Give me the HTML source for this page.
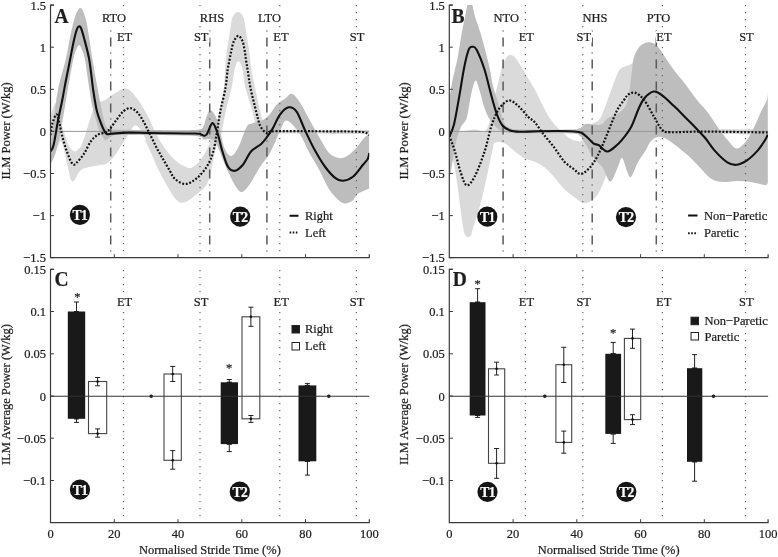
<!DOCTYPE html>
<html><head><meta charset="utf-8"><title>ILM Power</title>
<style>html,body{margin:0;padding:0;background:#fff;width:778px;height:557px;overflow:hidden}svg{display:block;will-change:transform}</style>
</head><body>
<svg width="778" height="557" viewBox="0 0 778 557">
<rect width="778" height="557" fill="#fff"/>
<defs><clipPath id="cA"><rect x="50.5" y="5.1" width="318.8" height="252.6"/></clipPath><clipPath id="cB"><rect x="449.3" y="5.1" width="318.8" height="252.6"/></clipPath></defs>
<g clip-path="url(#cA)">
<path d="M50.5 118.0C50.9 116.3 52.0 110.5 53.0 108.0C54.0 105.5 55.5 102.5 56.4 102.8C57.3 103.1 57.7 106.8 58.5 110.0C59.3 113.2 60.1 118.3 61.0 122.0C61.9 125.7 62.9 128.5 64.0 132.0C65.1 135.5 66.5 140.2 67.7 143.0C68.9 145.8 69.8 147.6 71.0 149.0C72.2 150.4 73.8 151.5 75.0 151.5C76.2 151.5 77.4 150.1 78.5 149.0C79.6 147.9 80.3 148.0 81.6 145.0C82.9 142.0 84.9 136.1 86.5 131.0C88.1 126.0 89.9 119.2 91.4 114.7C92.9 110.2 94.1 106.1 95.4 104.0C96.7 101.9 97.7 102.7 99.3 102.0C100.9 101.3 102.7 101.3 105.0 100.0C107.3 98.7 110.8 95.7 113.0 94.3C115.2 92.9 116.5 92.4 118.1 91.5C119.6 90.6 120.9 89.5 122.3 89.0C123.7 88.5 125.1 88.5 126.5 88.8C127.9 89.1 129.0 89.7 130.5 91.0C132.0 92.3 133.4 93.7 135.5 96.4C137.6 99.1 140.5 103.0 143.0 107.2C145.5 111.4 148.4 117.4 150.5 121.6C152.6 125.8 153.3 128.2 155.5 132.3C157.7 136.4 160.2 141.8 163.5 146.4C166.8 151.1 171.5 156.8 175.1 160.2C178.7 163.5 182.5 165.2 185.2 166.5C187.9 167.8 189.0 168.9 191.5 167.8C194.0 166.8 197.6 163.6 200.3 160.2C203.0 156.8 205.8 151.6 207.8 147.6C209.8 143.6 211.1 139.3 212.5 136.0C213.9 132.7 215.5 131.1 216.5 127.5C217.5 123.9 217.4 121.1 218.6 114.6C219.8 108.1 222.6 96.1 223.7 88.7C224.8 81.3 224.4 76.5 225.0 70.0C225.6 63.5 226.3 55.4 227.0 50.0C227.7 44.6 228.3 41.4 228.9 37.7C229.5 34.0 230.0 31.1 230.5 28.0C231.0 24.9 231.3 21.2 232.0 18.9C232.7 16.6 233.5 15.2 234.5 14.0C235.5 12.8 236.7 11.9 237.9 11.9C239.1 11.9 240.5 12.8 241.5 14.0C242.5 15.2 243.3 16.6 244.0 18.9C244.7 21.2 245.0 24.9 245.5 28.0C246.0 31.1 246.4 34.0 247.0 37.7C247.6 41.4 248.2 44.6 249.0 50.0C249.8 55.4 250.4 63.5 251.5 70.0C252.6 76.5 253.7 81.3 255.3 88.7C256.9 96.1 259.3 108.1 261.0 114.6C262.7 121.1 263.8 124.9 265.3 127.5C266.8 130.1 252.7 129.8 270.0 130.3C287.3 130.8 352.8 130.3 369.3 130.3L369.3 134.0C352.8 133.9 287.9 133.8 270.0 133.5C252.1 133.2 264.3 133.4 262.0 132.0C259.7 130.6 257.6 128.3 256.0 125.0C254.4 121.7 254.3 118.2 252.6 112.0C250.8 105.8 247.2 95.0 245.5 88.0C243.8 81.0 243.5 74.1 242.7 70.0C241.9 65.9 241.2 64.9 240.5 63.5C239.8 62.1 239.0 61.5 238.3 61.5C237.6 61.5 237.1 62.1 236.5 63.5C235.9 64.9 235.3 65.9 234.5 70.0C233.7 74.1 233.0 81.0 231.5 88.0C230.0 95.0 227.2 104.2 225.5 112.0C223.8 119.8 222.7 128.7 221.0 135.0C219.3 141.3 217.0 143.9 215.3 150.0C213.6 156.1 212.4 165.8 211.0 171.5C209.6 177.2 208.8 180.8 206.7 184.4C204.5 188.0 201.1 190.4 198.1 193.1C195.1 195.8 191.3 199.0 188.4 200.6C185.5 202.2 183.2 203.2 180.9 202.7C178.6 202.2 176.7 200.3 174.4 197.4C172.1 194.5 169.4 189.8 166.9 185.5C164.4 181.2 161.6 175.8 159.4 171.5C157.2 167.2 155.6 163.6 154.0 160.0C152.4 156.4 151.1 153.2 149.7 150.0C148.3 146.8 146.2 142.9 145.5 141.0C144.8 139.1 146.4 140.5 145.5 138.5C144.6 136.5 141.6 131.2 140.0 129.0C138.4 126.8 137.2 125.8 136.0 125.5C134.8 125.2 134.3 125.4 133.0 127.0C131.7 128.6 130.0 131.8 128.0 135.0C126.0 138.2 123.3 142.4 121.0 146.0C118.7 149.6 116.6 153.8 114.0 156.8C111.4 159.8 107.8 162.6 105.5 164.0C103.2 165.4 102.7 164.5 100.0 165.0C97.3 165.5 92.7 166.2 89.5 167.1C86.3 168.0 83.5 167.9 80.7 170.3C77.9 172.7 74.6 182.0 72.5 181.6C70.4 181.2 69.5 173.1 68.1 168.0C66.7 162.9 65.5 155.5 64.3 151.0C63.1 146.5 62.0 141.8 61.0 141.0C60.0 140.2 59.1 143.3 58.0 146.0C56.9 148.7 55.5 154.0 54.3 157.0C53.0 160.0 51.1 162.8 50.5 164.0Z" fill="#dadada" stroke="none"/>
<path d="M50.5 150.0C51.1 144.7 52.8 128.0 54.0 118.0C55.2 108.0 56.0 99.7 57.9 90.0C59.8 80.3 63.7 68.3 65.6 60.0C67.5 51.7 68.2 46.3 69.5 40.0C70.8 33.7 72.2 26.7 73.5 22.0C74.8 17.3 75.9 14.3 77.0 12.0C78.1 9.7 79.2 8.3 80.2 8.1C81.2 7.9 82.0 8.7 83.0 11.0C84.0 13.3 85.4 17.2 86.5 22.0C87.6 26.8 88.5 33.7 89.5 40.0C90.5 46.3 91.3 52.5 92.6 60.0C93.8 67.5 95.5 76.7 97.0 85.0C98.5 93.3 100.5 103.8 101.8 110.0C103.0 116.2 103.5 118.9 104.5 122.0C105.5 125.1 106.2 127.2 108.0 128.5C109.8 129.8 108.0 129.2 115.0 129.5C122.0 129.8 136.7 129.9 150.0 130.0C163.3 130.1 186.2 130.5 195.0 130.0C203.8 129.5 201.2 129.0 203.0 127.0C204.8 125.0 204.9 120.7 206.0 118.0C207.1 115.3 208.1 112.0 209.3 111.0C210.5 110.0 211.6 110.2 213.0 112.0C214.4 113.8 216.7 118.0 218.0 121.8C219.3 125.6 219.8 130.4 221.0 135.0C222.2 139.6 223.3 146.1 225.0 149.6C226.7 153.1 229.1 156.4 231.3 156.0C233.6 155.6 236.0 151.8 238.5 147.0C241.0 142.2 244.2 131.1 246.5 127.2C248.8 123.3 249.3 124.8 252.0 123.6C254.7 122.4 259.6 121.8 262.5 120.3C265.4 118.8 267.2 117.2 269.6 114.6C272.0 112.0 274.2 107.1 276.8 104.5C279.4 101.9 282.5 100.6 285.0 98.8C287.5 97.0 289.2 93.3 291.6 93.8C294.0 94.3 296.5 97.4 299.5 101.7C302.5 106.0 306.1 113.6 309.4 119.5C312.7 125.4 316.0 131.7 319.3 137.3C322.6 142.9 325.9 149.7 329.2 153.1C332.5 156.5 336.0 157.5 339.0 158.0C342.0 158.5 344.0 157.9 347.0 156.1C350.0 154.3 353.9 150.3 356.8 147.2C359.8 144.1 362.6 139.5 364.7 137.3C366.8 135.1 368.5 134.6 369.3 134.0L369.3 188.5C368.5 188.8 366.8 189.5 364.7 190.5C362.6 191.5 358.8 192.8 356.8 194.5C354.8 196.2 354.9 198.9 352.9 200.4C350.9 201.9 347.3 203.4 345.0 203.4C342.7 203.4 341.6 202.7 339.0 200.4C336.4 198.1 332.5 194.6 329.2 189.5C325.9 184.4 322.6 176.1 319.3 170.0C316.0 163.9 312.7 159.2 309.4 153.1C306.1 147.0 303.3 138.8 299.5 133.4C295.7 128.0 290.0 120.8 286.7 120.5C283.4 120.2 282.6 126.0 279.8 131.4C277.0 136.8 273.2 147.2 269.9 153.1C266.6 159.0 263.5 161.6 260.0 167.0C256.5 172.4 252.1 181.5 248.8 185.6C245.5 189.7 243.3 193.5 240.0 191.5C236.7 189.5 232.5 180.6 229.0 173.7C225.5 166.8 221.5 155.4 219.2 150.0C216.9 144.6 216.7 142.8 215.0 141.0C213.3 139.2 211.3 139.2 209.3 139.0C207.3 138.8 205.4 140.0 203.0 139.5C200.6 139.0 207.2 136.8 195.0 136.0C182.8 135.2 143.3 135.2 130.0 135.0C116.7 134.8 118.5 134.5 115.0 135.0C111.5 135.5 110.7 137.2 109.0 138.0C107.3 138.8 106.5 141.0 105.0 140.0C103.5 139.0 101.5 135.3 100.0 132.0C98.5 128.7 97.3 124.5 96.0 120.0C94.7 115.5 93.1 110.0 92.0 105.0C90.9 100.0 90.7 97.5 89.5 90.0C88.3 82.5 86.2 66.7 85.0 60.0C83.8 53.3 83.0 52.5 82.0 50.0C81.0 47.5 80.2 45.0 79.2 45.0C78.2 45.0 77.0 47.5 76.0 50.0C75.0 52.5 74.6 53.3 73.2 60.0C71.8 66.7 69.4 80.3 67.7 90.0C66.0 99.7 64.5 109.7 63.0 118.0C61.5 126.3 60.4 133.7 58.9 140.0C57.4 146.3 55.7 152.0 54.3 156.0C52.9 160.0 51.1 162.7 50.5 164.0Z" fill="#bdbdbd" stroke="none"/>
</g>
<g clip-path="url(#cB)">
<path d="M449.3 130.0C451.1 130.2 455.7 131.6 460.0 131.5C464.3 131.4 470.8 129.6 475.0 129.5C479.2 129.4 482.5 132.6 485.0 131.0C487.5 129.4 488.6 125.2 490.0 120.0C491.4 114.8 492.4 105.0 493.5 100.0C494.6 95.0 495.2 94.4 496.3 90.3C497.4 86.2 498.9 79.4 500.0 75.2C501.1 71.0 501.6 68.0 502.6 65.1C503.6 62.2 504.8 59.7 506.0 58.0C507.2 56.3 508.6 55.2 510.1 55.1C511.6 55.0 513.3 55.8 515.0 57.5C516.7 59.2 518.1 61.7 520.2 65.1C522.3 68.5 525.2 73.5 527.7 77.7C530.2 81.9 532.5 85.2 535.2 90.3C537.9 95.3 541.7 103.5 544.0 108.0C546.3 112.5 547.2 114.2 549.0 117.0C550.8 119.8 552.8 122.5 555.0 125.0C557.2 127.5 559.5 129.8 562.0 132.0C564.5 134.2 567.5 137.0 570.0 138.5C572.5 140.0 575.0 140.7 577.0 141.0C579.0 141.3 580.2 142.2 582.0 140.5C583.8 138.8 585.8 133.8 587.5 131.0C589.2 128.2 590.1 125.8 592.0 124.0C593.9 122.2 596.9 122.5 599.0 120.0C601.1 117.5 602.3 114.1 604.4 109.0C606.5 103.9 609.1 95.5 611.5 89.2C613.9 82.9 616.6 75.0 618.7 71.3C620.8 67.6 622.3 67.8 624.1 66.8C625.9 65.8 626.9 66.1 629.5 65.0C632.1 63.9 635.8 59.2 640.0 60.0C644.2 60.8 650.0 63.3 655.0 70.0C660.0 76.7 665.8 90.8 670.0 100.0C674.2 109.2 675.0 120.2 680.0 125.0C685.0 129.8 685.4 128.3 700.0 129.0C714.6 129.7 756.5 129.0 767.8 129.0L767.8 134.5C750.7 134.4 684.6 133.8 665.0 134.0C645.4 134.2 655.0 135.0 650.0 136.0C645.0 137.0 640.0 137.7 635.0 140.0C630.0 142.3 624.2 145.8 620.0 150.0C615.8 154.2 612.6 160.1 610.0 165.0C607.4 169.9 606.2 175.3 604.5 179.6C602.8 183.9 601.5 187.8 599.7 191.0C597.9 194.2 596.4 196.9 593.8 198.9C591.2 200.9 587.2 203.2 583.9 202.9C580.6 202.6 577.3 199.3 574.0 197.0C570.7 194.7 567.5 192.3 564.2 189.0C560.9 185.7 557.6 180.8 554.3 177.2C551.0 173.6 547.7 169.9 544.4 167.3C541.1 164.7 537.8 162.9 534.5 161.4C531.2 159.9 527.9 160.1 524.6 158.4C521.3 156.8 518.1 154.0 514.8 151.5C511.5 149.0 508.2 145.1 504.9 143.6C501.6 142.1 497.1 141.5 495.0 142.6C492.9 143.7 493.8 144.8 492.5 150.0C491.2 155.2 489.5 164.8 487.5 173.7C485.5 182.6 483.1 194.2 480.6 203.4C478.1 212.6 474.4 223.6 472.7 229.0C471.0 234.4 471.8 234.8 470.7 236.0C469.6 237.2 467.1 237.8 465.8 236.0C464.5 234.2 464.3 234.2 462.8 225.1C461.3 216.0 458.5 192.4 456.9 181.6C455.3 170.8 454.3 165.6 453.0 160.0C451.7 154.4 449.9 150.0 449.3 148.0Z" fill="#dadada" stroke="none"/>
<path d="M449.3 100.0C449.8 97.2 450.7 89.7 452.0 83.0C453.3 76.3 456.1 65.2 457.2 60.0C458.3 54.8 457.9 56.3 458.7 51.7C459.5 47.1 460.8 38.2 461.9 32.3C463.0 26.4 464.2 20.9 465.2 16.2C466.2 11.5 466.7 6.0 467.8 4.0C468.9 2.0 470.6 2.0 471.8 4.0C473.0 6.0 473.5 11.5 474.9 16.2C476.3 20.9 478.5 26.4 480.3 32.3C482.1 38.2 484.0 45.5 485.6 51.7C487.2 57.9 488.8 63.8 490.0 69.5C491.2 75.2 491.6 80.4 493.0 86.0C494.4 91.6 496.6 97.2 498.3 103.0C500.0 108.8 501.7 116.8 503.3 120.8C504.9 124.8 505.2 125.5 508.0 127.0C510.8 128.4 509.7 129.1 520.0 129.5C530.3 129.9 560.0 129.8 570.0 129.5C580.0 129.2 577.2 129.0 580.0 128.0C582.8 127.0 583.3 124.2 586.7 123.7C590.1 123.2 597.0 125.7 600.5 124.7C604.0 123.8 605.3 119.7 608.0 118.0C610.7 116.3 613.9 116.5 616.9 114.4C619.9 112.3 623.8 109.5 625.9 105.4C628.0 101.3 628.6 95.1 629.5 90.0C630.4 84.9 630.8 80.1 631.5 74.9C632.2 69.7 632.3 63.2 633.5 58.7C634.7 54.2 636.8 50.5 638.5 48.0C640.2 45.5 641.8 44.4 643.9 43.5C646.0 42.6 648.6 42.0 651.0 42.6C653.4 43.2 655.5 44.0 658.2 47.0C660.9 50.0 664.2 56.1 667.2 60.5C670.2 64.8 673.2 69.2 676.2 73.1C679.2 77.0 681.7 79.4 685.2 83.9C688.7 88.4 693.3 95.3 697.0 100.0C700.7 104.7 703.8 107.1 707.5 112.0C711.2 116.9 716.1 125.0 719.4 129.6C722.7 134.2 724.5 136.4 727.3 139.5C730.1 142.6 733.2 147.9 736.2 148.4C739.2 148.9 742.3 145.6 745.1 142.5C747.9 139.4 750.4 134.7 753.0 129.6C755.6 124.5 758.6 116.8 760.9 111.9C763.2 107.0 765.6 103.5 766.8 100.0C767.9 96.5 767.6 92.4 767.8 90.9L767.8 183.0C767.3 183.3 767.6 185.2 764.8 185.0C762.0 184.8 755.6 182.7 751.0 182.0C746.4 181.3 741.8 181.0 737.2 181.0C732.6 181.0 727.6 182.3 723.3 182.0C719.0 181.7 715.5 181.5 711.5 179.0C707.5 176.5 703.6 171.1 699.6 167.2C695.6 163.2 693.1 159.8 687.8 155.3C682.5 150.8 673.0 143.1 668.0 140.0C663.0 136.9 660.5 136.6 657.5 137.0C654.5 137.4 651.8 140.3 649.9 142.5C648.0 144.7 648.0 146.8 646.0 150.0C644.0 153.2 640.6 157.5 638.1 161.9C635.6 166.3 632.9 175.1 631.1 176.7C629.3 178.3 628.7 174.8 627.2 171.7C625.7 168.6 623.7 158.9 622.2 157.9C620.7 156.9 620.3 161.9 618.3 165.8C616.3 169.8 613.0 181.4 610.4 181.6C607.8 181.8 605.1 170.9 602.5 167.2C599.9 163.5 597.4 163.0 594.6 159.3C591.9 155.6 588.4 148.9 586.0 145.0C583.6 141.1 582.7 137.9 580.0 136.0C577.3 134.1 580.0 133.9 570.0 133.5C560.0 133.1 530.0 133.6 520.0 133.5C510.0 133.4 512.6 133.2 510.0 133.0C507.4 132.8 506.5 132.8 504.3 132.0C502.1 131.2 499.4 130.0 497.0 128.0C494.6 126.0 492.1 123.3 490.0 120.0C487.9 116.7 486.2 112.7 484.5 108.0C482.8 103.3 481.5 96.6 480.0 92.0C478.5 87.4 477.1 79.9 475.6 80.4C474.1 80.9 472.5 88.7 471.0 95.0C469.5 101.3 468.4 112.7 466.7 118.0C465.0 123.3 462.8 123.0 461.0 127.0C459.2 131.0 457.5 135.7 456.0 142.0C454.5 148.3 453.1 158.3 452.0 165.0C450.9 171.7 449.8 179.2 449.3 182.0Z" fill="#bdbdbd" stroke="none"/>
</g>
<path d="M50.5 131.4H369.3M449.3 131.4H768.1" stroke="#999" stroke-width="1"/>
<path d="M123.5 5.0V257.7" stroke="#666" stroke-width="1.2" stroke-dasharray="1.2 5.8"/>
<path d="M123.5 270.0V522.7" stroke="#666" stroke-width="1.2" stroke-dasharray="1.2 5.8"/>
<path d="M200.0 5.0V257.7" stroke="#666" stroke-width="1.2" stroke-dasharray="1.2 5.8"/>
<path d="M200.0 270.0V522.7" stroke="#666" stroke-width="1.2" stroke-dasharray="1.2 5.8"/>
<path d="M279.8 5.0V257.7" stroke="#666" stroke-width="1.2" stroke-dasharray="1.2 5.8"/>
<path d="M279.8 270.0V522.7" stroke="#666" stroke-width="1.2" stroke-dasharray="1.2 5.8"/>
<path d="M356.4 5.0V257.7" stroke="#666" stroke-width="1.2" stroke-dasharray="1.2 5.8"/>
<path d="M356.4 270.0V522.7" stroke="#666" stroke-width="1.2" stroke-dasharray="1.2 5.8"/>
<path d="M525.4 5.0V257.7" stroke="#666" stroke-width="1.2" stroke-dasharray="1.2 5.8"/>
<path d="M525.4 270.0V522.7" stroke="#666" stroke-width="1.2" stroke-dasharray="1.2 5.8"/>
<path d="M582.8 5.0V257.7" stroke="#666" stroke-width="1.2" stroke-dasharray="1.2 5.8"/>
<path d="M582.8 270.0V522.7" stroke="#666" stroke-width="1.2" stroke-dasharray="1.2 5.8"/>
<path d="M662.4 5.0V257.7" stroke="#666" stroke-width="1.2" stroke-dasharray="1.2 5.8"/>
<path d="M662.4 270.0V522.7" stroke="#666" stroke-width="1.2" stroke-dasharray="1.2 5.8"/>
<path d="M745.5 5.0V257.7" stroke="#666" stroke-width="1.2" stroke-dasharray="1.2 5.8"/>
<path d="M745.5 270.0V522.7" stroke="#666" stroke-width="1.2" stroke-dasharray="1.2 5.8"/>
<path d="M110.7 30.6V252.0" stroke="#5a5a5a" stroke-width="1.5" stroke-dasharray="1 6 9 6"/>
<path d="M209.7 30.6V252.0" stroke="#5a5a5a" stroke-width="1.5" stroke-dasharray="1 6 9 6"/>
<path d="M266.9 30.6V252.0" stroke="#5a5a5a" stroke-width="1.5" stroke-dasharray="1 6 9 6"/>
<path d="M503.1 30.6V252.0" stroke="#5a5a5a" stroke-width="1.5" stroke-dasharray="1 6 9 6"/>
<path d="M592.2 30.6V252.0" stroke="#5a5a5a" stroke-width="1.5" stroke-dasharray="1 6 9 6"/>
<path d="M656.3 30.6V252.0" stroke="#5a5a5a" stroke-width="1.5" stroke-dasharray="1 6 9 6"/>
<g clip-path="url(#cA)">
<path d="M50.5 135.2C50.8 133.3 51.3 127.2 52.3 123.7C53.3 120.2 55.4 114.4 56.6 114.4C57.8 114.4 58.5 120.0 59.5 123.7C60.5 127.4 61.2 132.1 62.4 136.7C63.6 141.2 65.0 146.5 66.7 151.0C68.4 155.5 70.7 162.0 72.4 163.9C74.1 165.8 74.8 164.2 76.7 162.5C78.6 160.8 81.5 157.5 83.9 153.9C86.3 150.3 88.7 144.2 91.1 141.0C93.5 137.8 95.9 135.9 98.3 134.5C100.7 133.1 103.5 133.2 105.5 132.3C107.5 131.4 108.2 130.9 110.0 128.8C111.8 126.7 114.3 122.7 116.5 119.9C118.7 117.1 120.6 113.8 122.9 111.8C125.2 109.8 127.8 108.0 130.2 108.1C132.6 108.2 135.2 110.2 137.5 112.6C139.8 115.0 141.8 118.5 143.9 122.3C146.1 126.1 148.2 130.9 150.4 135.2C152.6 139.5 154.7 144.1 156.8 148.2C159.0 152.2 161.1 155.7 163.3 159.5C165.5 163.3 167.9 167.6 169.8 170.8C171.8 174.1 172.4 176.8 175.0 179.0C177.6 181.2 181.9 184.2 185.6 184.0C189.3 183.8 193.8 180.7 197.4 177.7C201.0 174.7 204.7 170.1 207.3 165.8C209.9 161.5 211.6 157.5 213.2 152.0C214.8 146.5 215.6 139.7 216.8 133.0C218.0 126.3 218.8 119.5 220.2 112.0C221.6 104.5 224.3 95.0 225.5 88.0C226.7 81.0 226.9 74.7 227.6 70.0C228.3 65.3 228.9 63.3 229.5 60.0C230.1 56.7 230.7 53.5 231.4 50.3C232.2 47.1 232.8 43.4 234.0 41.0C235.2 38.6 236.9 35.8 238.3 35.8C239.7 35.8 241.4 38.6 242.5 41.0C243.6 43.4 244.0 47.1 244.6 50.3C245.2 53.5 245.5 56.7 246.0 60.0C246.5 63.3 246.9 65.3 247.7 70.0C248.4 74.7 249.1 81.0 250.5 88.0C251.9 95.0 254.7 105.7 256.3 112.0C257.9 118.3 258.6 122.6 260.3 126.1C262.1 129.6 264.9 132.3 266.8 133.2C268.8 134.1 266.5 131.6 272.0 131.3C277.5 131.0 288.7 131.2 300.0 131.2C311.3 131.2 329.7 131.3 340.0 131.4C350.3 131.5 357.4 131.6 362.0 132.0C366.6 132.4 366.5 133.3 367.7 133.8C368.9 134.3 369.0 134.8 369.3 135.0" fill="none" stroke="#111" stroke-width="2.2" stroke-dasharray="1.9 1.7" />
<path d="M50.5 151.5C51.0 150.4 52.3 150.2 53.6 145.0C54.9 139.8 56.6 127.6 58.1 120.0C59.6 112.4 61.1 106.0 62.4 99.3C63.7 92.6 64.7 86.5 66.0 80.0C67.3 73.5 68.7 66.7 70.0 60.0C71.3 53.3 72.8 45.2 74.0 40.0C75.2 34.8 76.2 31.2 77.0 29.0C77.8 26.8 78.2 26.7 78.9 26.5C79.6 26.3 80.2 26.1 81.0 28.0C81.8 29.9 82.6 32.7 84.0 38.0C85.4 43.3 87.8 51.3 89.3 60.0C90.8 68.7 92.0 81.5 93.2 90.0C94.5 98.5 95.5 105.2 96.8 110.8C98.1 116.4 99.8 120.2 101.1 123.7C102.4 127.2 103.7 129.9 104.7 131.6C105.7 133.3 105.8 133.7 106.9 134.1C108.0 134.5 107.7 134.1 111.2 133.8C114.7 133.6 121.5 132.7 128.0 132.6C134.5 132.5 138.8 132.8 150.0 133.0C161.2 133.2 186.5 133.2 195.0 133.5C203.5 133.8 199.5 134.1 201.0 134.5C202.5 134.9 203.0 135.8 204.0 135.7C205.0 135.6 205.6 136.1 207.0 134.0C208.4 131.9 210.8 123.3 212.5 123.1C214.2 122.9 215.9 128.5 217.5 133.0C219.1 137.5 220.2 144.4 222.0 150.0C223.8 155.6 225.8 163.3 228.0 166.8C230.2 170.3 232.5 171.1 235.0 170.8C237.5 170.5 240.2 168.0 242.9 164.8C245.6 161.6 248.0 154.9 251.0 151.5C254.0 148.1 258.3 146.4 260.9 144.2C263.4 141.9 264.4 140.6 266.3 138.0C268.2 135.4 270.2 132.8 272.5 128.9C274.8 125.0 277.1 118.4 279.8 114.8C282.5 111.2 285.9 107.8 288.7 107.3C291.5 106.8 293.8 107.6 296.6 111.6C299.4 115.6 302.4 124.8 305.5 131.4C308.6 138.0 312.0 145.2 315.3 151.1C318.6 157.0 321.9 162.6 325.2 167.0C328.5 171.4 332.1 175.5 335.1 177.8C338.1 180.1 340.0 181.0 343.0 180.8C346.0 180.6 349.6 179.4 352.9 176.8C356.2 174.2 360.3 168.0 362.8 165.0C365.3 162.0 366.6 161.0 367.7 159.0C368.8 157.0 369.0 154.0 369.3 153.0" fill="none" stroke="#111" stroke-width="2.1" stroke-linejoin="round"/>
</g>
<g clip-path="url(#cB)">
<path d="M449.3 135.6C450.2 138.2 453.0 145.2 454.9 151.4C456.8 157.7 458.9 167.4 460.9 173.1C462.9 178.8 464.5 184.7 466.8 185.3C469.1 185.9 471.7 182.2 474.7 176.5C477.7 170.8 481.8 159.9 484.6 151.4C487.4 142.9 489.2 132.6 491.5 125.7C493.8 118.8 495.6 114.1 498.4 109.9C501.2 105.7 505.0 101.2 508.3 100.5C511.6 99.8 514.9 103.2 518.2 105.9C521.5 108.6 525.3 114.1 528.0 116.8C530.7 119.5 532.0 119.1 534.5 121.9C537.0 124.7 539.7 129.3 543.0 133.6C546.3 137.9 550.8 143.0 554.3 147.6C557.8 152.2 560.9 157.8 564.2 161.4C567.5 165.0 571.2 167.2 574.0 169.3C576.8 171.4 578.4 174.2 581.0 173.9C583.6 173.6 587.1 170.6 589.9 167.5C592.7 164.4 595.0 160.8 597.8 155.5C600.5 150.2 603.3 143.3 606.4 136.0C609.5 128.7 613.4 117.9 616.3 111.9C619.2 105.9 622.0 102.9 624.0 100.0C626.0 97.1 626.7 95.5 628.6 94.3C630.5 93.1 632.9 91.9 635.5 92.9C638.1 93.9 641.1 96.1 644.2 100.1C647.3 104.1 651.1 111.9 654.1 116.9C657.1 121.9 659.5 127.4 662.2 129.9C664.9 132.4 663.0 131.9 670.1 132.2C677.2 132.5 688.7 131.5 705.0 131.6C721.3 131.7 757.3 132.3 767.8 132.5" fill="none" stroke="#111" stroke-width="2.2" stroke-dasharray="1.9 1.7" />
<path d="M449.3 136.6C450.1 134.6 452.3 131.1 453.9 124.8C455.5 118.5 457.1 108.3 458.8 99.1C460.5 89.9 462.2 77.7 463.8 69.5C465.4 61.3 467.2 53.5 468.7 49.7C470.2 45.9 471.3 46.8 472.6 46.8C473.9 46.8 474.6 45.9 476.6 49.7C478.6 53.5 482.1 62.0 484.5 69.5C486.9 77.0 489.1 87.6 491.2 95.0C493.2 102.4 494.9 108.9 496.8 114.0C498.7 119.1 500.2 122.7 502.5 125.5C504.8 128.3 507.4 129.5 510.3 130.6C513.2 131.7 515.5 131.7 520.1 131.8C524.7 131.9 529.5 131.3 538.0 131.2C546.5 131.1 563.8 131.0 570.9 131.2C578.0 131.4 577.9 131.5 580.8 132.6C583.6 133.7 585.9 136.2 588.0 138.0C590.1 139.8 591.5 142.2 593.3 143.4C595.1 144.6 596.9 144.1 598.7 145.2C600.5 146.3 602.6 148.9 604.1 150.0C605.6 151.1 606.3 151.9 608.0 151.5C609.7 151.1 612.0 149.3 614.3 147.4C616.6 145.5 619.2 143.2 622.0 139.8C624.8 136.4 628.2 132.3 631.0 127.2C633.8 122.1 636.3 113.8 638.5 109.0C640.7 104.2 641.9 101.1 644.4 98.2C646.9 95.3 650.6 92.0 653.6 91.5C656.6 91.0 658.8 92.9 662.2 95.3C665.6 97.7 670.0 102.3 674.0 106.1C678.0 109.9 682.3 114.4 685.9 118.0C689.5 121.6 692.6 124.6 695.8 127.9C699.0 131.2 701.7 133.9 705.0 137.8C708.3 141.7 711.7 147.3 715.4 151.4C719.1 155.5 723.8 160.1 727.3 162.3C730.8 164.5 732.9 165.1 736.2 164.8C739.5 164.5 743.5 162.5 747.0 160.3C750.5 158.1 753.9 154.7 756.9 151.4C759.9 148.1 763.0 143.3 764.8 140.5C766.6 137.7 767.3 135.6 767.8 134.6" fill="none" stroke="#111" stroke-width="2.1" stroke-linejoin="round"/>
</g>
<path d="M76.5 302.0V311.5M74.0 302.0h5M74.0 311.5h5" stroke="#222" stroke-width="1"/>
<path d="M76.5 418.8V422.4M74.0 418.8h5M74.0 422.4h5" stroke="#222" stroke-width="1"/>
<path d="M74.0 311.5h5M74.0 418.8h5" stroke="#222"/>
<rect x="67.8" y="311.5" width="17.4" height="107.3" fill="#191919"/>
<rect x="88.5" y="381.5" width="18.2" height="52.1" fill="#fff" stroke="#444" stroke-width="1.1"/>
<path d="M97.6 377.5V385.8M95.1 377.5h5M95.1 385.8h5" stroke="#222" stroke-width="1"/>
<path d="M97.6 428.9V437.2M95.1 428.9h5M95.1 437.2h5" stroke="#222" stroke-width="1"/>
<circle cx="97.6" cy="381.5" r="1.3" fill="#111"/><circle cx="97.6" cy="433.6" r="1.3" fill="#111"/>
<rect x="164.0" y="374.0" width="17.3" height="86.3" fill="#fff" stroke="#444" stroke-width="1.1"/>
<path d="M172.7 366.4V381.5M170.2 366.4h5M170.2 381.5h5" stroke="#222" stroke-width="1"/>
<path d="M172.7 450.6V469.2M170.2 450.6h5M170.2 469.2h5" stroke="#222" stroke-width="1"/>
<circle cx="172.7" cy="374.0" r="1.3" fill="#111"/><circle cx="172.7" cy="460.3" r="1.3" fill="#111"/>
<path d="M229.3 379.5V382.3M226.8 379.5h5M226.8 382.3h5" stroke="#222" stroke-width="1"/>
<path d="M229.3 444.1V451.6M226.8 444.1h5M226.8 451.6h5" stroke="#222" stroke-width="1"/>
<path d="M226.8 382.3h5M226.8 444.1h5" stroke="#222"/>
<rect x="220.7" y="382.3" width="17.3" height="61.8" fill="#191919"/>
<rect x="242.0" y="316.8" width="17.8" height="102.0" fill="#fff" stroke="#444" stroke-width="1.1"/>
<path d="M250.9 307.2V326.3M248.4 307.2h5M248.4 326.3h5" stroke="#222" stroke-width="1"/>
<path d="M250.9 415.5V422.4M248.4 415.5h5M248.4 422.4h5" stroke="#222" stroke-width="1"/>
<circle cx="250.9" cy="316.8" r="1.3" fill="#111"/><circle cx="250.9" cy="418.8" r="1.3" fill="#111"/>
<path d="M307.4 383.4V385.4M304.9 383.4h5M304.9 385.4h5" stroke="#222" stroke-width="1"/>
<path d="M307.4 461.3V475.1M304.9 461.3h5M304.9 475.1h5" stroke="#222" stroke-width="1"/>
<path d="M304.9 385.4h5M304.9 461.3h5" stroke="#222"/>
<rect x="298.5" y="385.4" width="17.8" height="75.9" fill="#191919"/>
<circle cx="151.2" cy="396.2" r="1.8" fill="#111"/>
<circle cx="328.8" cy="396.2" r="1.8" fill="#111"/>
<circle cx="544.8" cy="396.2" r="1.8" fill="#111"/>
<circle cx="713.5" cy="396.2" r="1.8" fill="#111"/>
<path d="M477.6 288.7V302.2M475.1 288.7h5M475.1 302.2h5" stroke="#222" stroke-width="1"/>
<path d="M477.6 415.5V417.4M475.1 415.5h5M475.1 417.4h5" stroke="#222" stroke-width="1"/>
<path d="M475.1 302.2h5M475.1 415.5h5" stroke="#222"/>
<rect x="469.7" y="302.2" width="15.8" height="113.3" fill="#191919"/>
<rect x="488.5" y="368.8" width="16.2" height="94.5" fill="#fff" stroke="#444" stroke-width="1.1"/>
<path d="M496.6 362.2V375.0M494.1 362.2h5M494.1 375.0h5" stroke="#222" stroke-width="1"/>
<path d="M496.6 448.5V478.3M494.1 448.5h5M494.1 478.3h5" stroke="#222" stroke-width="1"/>
<circle cx="496.6" cy="368.8" r="1.3" fill="#111"/><circle cx="496.6" cy="463.3" r="1.3" fill="#111"/>
<rect x="555.9" y="364.7" width="15.8" height="77.7" fill="#fff" stroke="#444" stroke-width="1.1"/>
<path d="M563.8 347.3V382.5M561.3 347.3h5M561.3 382.5h5" stroke="#222" stroke-width="1"/>
<path d="M563.8 431.1V453.2M561.3 431.1h5M561.3 453.2h5" stroke="#222" stroke-width="1"/>
<circle cx="563.8" cy="364.7" r="1.3" fill="#111"/><circle cx="563.8" cy="442.4" r="1.3" fill="#111"/>
<path d="M613.2 342.4V353.8M610.7 342.4h5M610.7 353.8h5" stroke="#222" stroke-width="1"/>
<path d="M613.2 433.9V443.4M610.7 433.9h5M610.7 443.4h5" stroke="#222" stroke-width="1"/>
<path d="M610.7 353.8h5M610.7 433.9h5" stroke="#222"/>
<rect x="605.3" y="353.8" width="15.8" height="80.1" fill="#191919"/>
<rect x="624.4" y="338.4" width="16.3" height="81.2" fill="#fff" stroke="#444" stroke-width="1.1"/>
<path d="M632.5 329.1V348.3M630.0 329.1h5M630.0 348.3h5" stroke="#222" stroke-width="1"/>
<path d="M632.5 414.7V424.6M630.0 414.7h5M630.0 424.6h5" stroke="#222" stroke-width="1"/>
<circle cx="632.5" cy="338.4" r="1.3" fill="#111"/><circle cx="632.5" cy="419.6" r="1.3" fill="#111"/>
<path d="M694.6 354.6V368.2M692.1 354.6h5M692.1 368.2h5" stroke="#222" stroke-width="1"/>
<path d="M694.6 461.8V481.2M692.1 461.8h5M692.1 481.2h5" stroke="#222" stroke-width="1"/>
<path d="M692.1 368.2h5M692.1 461.8h5" stroke="#222"/>
<rect x="687.0" y="368.2" width="15.3" height="93.6" fill="#191919"/>
<path d="M50.5 396.2H369.3M449.3 396.2H768.1" stroke="#333" stroke-width="1.1"/>
<text transform="translate(77.30 300.80) scale(1 1.08)" font-family="Liberation Serif" font-size="12.5" text-anchor="middle" font-weight="normal" fill="#1e1e1e" stroke="#1e1e1e" stroke-width="0.22" >*</text>
<text transform="translate(229.20 372.30) scale(1 1.08)" font-family="Liberation Serif" font-size="12.5" text-anchor="middle" font-weight="normal" fill="#1e1e1e" stroke="#1e1e1e" stroke-width="0.22" >*</text>
<text transform="translate(477.60 288.30) scale(1 1.08)" font-family="Liberation Serif" font-size="12.5" text-anchor="middle" font-weight="normal" fill="#1e1e1e" stroke="#1e1e1e" stroke-width="0.22" >*</text>
<text transform="translate(613.20 336.60) scale(1 1.08)" font-family="Liberation Serif" font-size="12.5" text-anchor="middle" font-weight="normal" fill="#1e1e1e" stroke="#1e1e1e" stroke-width="0.22" >*</text>
<path d="M54.0 5.1H50.5V257.7H369.3V254.2" fill="none" stroke="#3a3a3a" stroke-width="1.2"/>
<path d="M50.5 5.1H54.0M50.5 47.2H54.0M50.5 89.3H54.0M50.5 131.4H54.0M50.5 173.5H54.0M50.5 215.6H54.0M50.5 257.7H54.0M114.3 257.7V254.2M178.0 257.7V254.2M241.8 257.7V254.2M305.5 257.7V254.2" stroke="#3a3a3a" stroke-width="1"/>
<text transform="translate(46.00 9.80) scale(1 1.08)" font-family="Liberation Serif" font-size="12.5" text-anchor="end" font-weight="normal" fill="#1e1e1e" stroke="#1e1e1e" stroke-width="0.22" >1.5</text>
<text transform="translate(46.00 51.90) scale(1 1.08)" font-family="Liberation Serif" font-size="12.5" text-anchor="end" font-weight="normal" fill="#1e1e1e" stroke="#1e1e1e" stroke-width="0.22" >1</text>
<text transform="translate(46.00 94.00) scale(1 1.08)" font-family="Liberation Serif" font-size="12.5" text-anchor="end" font-weight="normal" fill="#1e1e1e" stroke="#1e1e1e" stroke-width="0.22" >0.5</text>
<text transform="translate(46.00 136.10) scale(1 1.08)" font-family="Liberation Serif" font-size="12.5" text-anchor="end" font-weight="normal" fill="#1e1e1e" stroke="#1e1e1e" stroke-width="0.22" >0</text>
<text transform="translate(46.00 178.20) scale(1 1.08)" font-family="Liberation Serif" font-size="12.5" text-anchor="end" font-weight="normal" fill="#1e1e1e" stroke="#1e1e1e" stroke-width="0.22" >−0.5</text>
<text transform="translate(46.00 220.30) scale(1 1.08)" font-family="Liberation Serif" font-size="12.5" text-anchor="end" font-weight="normal" fill="#1e1e1e" stroke="#1e1e1e" stroke-width="0.22" >−1</text>
<text transform="translate(46.00 262.40) scale(1 1.08)" font-family="Liberation Serif" font-size="12.5" text-anchor="end" font-weight="normal" fill="#1e1e1e" stroke="#1e1e1e" stroke-width="0.22" >−1.5</text>
<path d="M452.8 5.1H449.3V257.7H768.1V254.2" fill="none" stroke="#3a3a3a" stroke-width="1.2"/>
<path d="M449.3 5.1H452.8M449.3 47.2H452.8M449.3 89.3H452.8M449.3 131.4H452.8M449.3 173.5H452.8M449.3 215.6H452.8M449.3 257.7H452.8M513.1 257.7V254.2M576.8 257.7V254.2M640.6 257.7V254.2M704.3 257.7V254.2" stroke="#3a3a3a" stroke-width="1"/>
<text transform="translate(444.80 9.80) scale(1 1.08)" font-family="Liberation Serif" font-size="12.5" text-anchor="end" font-weight="normal" fill="#1e1e1e" stroke="#1e1e1e" stroke-width="0.22" >1.5</text>
<text transform="translate(444.80 51.90) scale(1 1.08)" font-family="Liberation Serif" font-size="12.5" text-anchor="end" font-weight="normal" fill="#1e1e1e" stroke="#1e1e1e" stroke-width="0.22" >1</text>
<text transform="translate(444.80 94.00) scale(1 1.08)" font-family="Liberation Serif" font-size="12.5" text-anchor="end" font-weight="normal" fill="#1e1e1e" stroke="#1e1e1e" stroke-width="0.22" >0.5</text>
<text transform="translate(444.80 136.10) scale(1 1.08)" font-family="Liberation Serif" font-size="12.5" text-anchor="end" font-weight="normal" fill="#1e1e1e" stroke="#1e1e1e" stroke-width="0.22" >0</text>
<text transform="translate(444.80 178.20) scale(1 1.08)" font-family="Liberation Serif" font-size="12.5" text-anchor="end" font-weight="normal" fill="#1e1e1e" stroke="#1e1e1e" stroke-width="0.22" >−0.5</text>
<text transform="translate(444.80 220.30) scale(1 1.08)" font-family="Liberation Serif" font-size="12.5" text-anchor="end" font-weight="normal" fill="#1e1e1e" stroke="#1e1e1e" stroke-width="0.22" >−1</text>
<text transform="translate(444.80 262.40) scale(1 1.08)" font-family="Liberation Serif" font-size="12.5" text-anchor="end" font-weight="normal" fill="#1e1e1e" stroke="#1e1e1e" stroke-width="0.22" >−1.5</text>
<path d="M54.0 269.3H50.5V522.7H369.3V519.2" fill="none" stroke="#3a3a3a" stroke-width="1.2"/>
<path d="M50.5 269.3H54.0M50.5 311.5H54.0M50.5 353.8H54.0M50.5 396.0H54.0M50.5 438.2H54.0M50.5 480.5H54.0M114.3 522.7V519.2M178.0 522.7V519.2M241.8 522.7V519.2M305.5 522.7V519.2" stroke="#3a3a3a" stroke-width="1"/>
<text transform="translate(46.00 274.00) scale(1 1.08)" font-family="Liberation Serif" font-size="12.5" text-anchor="end" font-weight="normal" fill="#1e1e1e" stroke="#1e1e1e" stroke-width="0.22" >0.15</text>
<text transform="translate(46.00 316.23) scale(1 1.08)" font-family="Liberation Serif" font-size="12.5" text-anchor="end" font-weight="normal" fill="#1e1e1e" stroke="#1e1e1e" stroke-width="0.22" >0.1</text>
<text transform="translate(46.00 358.47) scale(1 1.08)" font-family="Liberation Serif" font-size="12.5" text-anchor="end" font-weight="normal" fill="#1e1e1e" stroke="#1e1e1e" stroke-width="0.22" >0.05</text>
<text transform="translate(46.00 400.70) scale(1 1.08)" font-family="Liberation Serif" font-size="12.5" text-anchor="end" font-weight="normal" fill="#1e1e1e" stroke="#1e1e1e" stroke-width="0.22" >0</text>
<text transform="translate(46.00 442.93) scale(1 1.08)" font-family="Liberation Serif" font-size="12.5" text-anchor="end" font-weight="normal" fill="#1e1e1e" stroke="#1e1e1e" stroke-width="0.22" >−0.05</text>
<text transform="translate(46.00 485.17) scale(1 1.08)" font-family="Liberation Serif" font-size="12.5" text-anchor="end" font-weight="normal" fill="#1e1e1e" stroke="#1e1e1e" stroke-width="0.22" >−0.1</text>
<path d="M452.8 269.3H449.3V522.7H768.1V519.2" fill="none" stroke="#3a3a3a" stroke-width="1.2"/>
<path d="M449.3 269.3H452.8M449.3 311.5H452.8M449.3 353.8H452.8M449.3 396.0H452.8M449.3 438.2H452.8M449.3 480.5H452.8M513.1 522.7V519.2M576.8 522.7V519.2M640.6 522.7V519.2M704.3 522.7V519.2" stroke="#3a3a3a" stroke-width="1"/>
<text transform="translate(444.80 274.00) scale(1 1.08)" font-family="Liberation Serif" font-size="12.5" text-anchor="end" font-weight="normal" fill="#1e1e1e" stroke="#1e1e1e" stroke-width="0.22" >0.15</text>
<text transform="translate(444.80 316.23) scale(1 1.08)" font-family="Liberation Serif" font-size="12.5" text-anchor="end" font-weight="normal" fill="#1e1e1e" stroke="#1e1e1e" stroke-width="0.22" >0.1</text>
<text transform="translate(444.80 358.47) scale(1 1.08)" font-family="Liberation Serif" font-size="12.5" text-anchor="end" font-weight="normal" fill="#1e1e1e" stroke="#1e1e1e" stroke-width="0.22" >0.05</text>
<text transform="translate(444.80 400.70) scale(1 1.08)" font-family="Liberation Serif" font-size="12.5" text-anchor="end" font-weight="normal" fill="#1e1e1e" stroke="#1e1e1e" stroke-width="0.22" >0</text>
<text transform="translate(444.80 442.93) scale(1 1.08)" font-family="Liberation Serif" font-size="12.5" text-anchor="end" font-weight="normal" fill="#1e1e1e" stroke="#1e1e1e" stroke-width="0.22" >−0.05</text>
<text transform="translate(444.80 485.17) scale(1 1.08)" font-family="Liberation Serif" font-size="12.5" text-anchor="end" font-weight="normal" fill="#1e1e1e" stroke="#1e1e1e" stroke-width="0.22" >−0.1</text>
<text transform="translate(50.50 538.10) scale(1 1.08)" font-family="Liberation Serif" font-size="12.5" text-anchor="middle" font-weight="normal" fill="#1e1e1e" stroke="#1e1e1e" stroke-width="0.22" >0</text>
<text transform="translate(114.26 538.10) scale(1 1.08)" font-family="Liberation Serif" font-size="12.5" text-anchor="middle" font-weight="normal" fill="#1e1e1e" stroke="#1e1e1e" stroke-width="0.22" >20</text>
<text transform="translate(178.02 538.10) scale(1 1.08)" font-family="Liberation Serif" font-size="12.5" text-anchor="middle" font-weight="normal" fill="#1e1e1e" stroke="#1e1e1e" stroke-width="0.22" >40</text>
<text transform="translate(241.78 538.10) scale(1 1.08)" font-family="Liberation Serif" font-size="12.5" text-anchor="middle" font-weight="normal" fill="#1e1e1e" stroke="#1e1e1e" stroke-width="0.22" >60</text>
<text transform="translate(305.54 538.10) scale(1 1.08)" font-family="Liberation Serif" font-size="12.5" text-anchor="middle" font-weight="normal" fill="#1e1e1e" stroke="#1e1e1e" stroke-width="0.22" >80</text>
<text transform="translate(369.30 538.10) scale(1 1.08)" font-family="Liberation Serif" font-size="12.5" text-anchor="middle" font-weight="normal" fill="#1e1e1e" stroke="#1e1e1e" stroke-width="0.22" >100</text>
<text transform="translate(449.30 538.10) scale(1 1.08)" font-family="Liberation Serif" font-size="12.5" text-anchor="middle" font-weight="normal" fill="#1e1e1e" stroke="#1e1e1e" stroke-width="0.22" >0</text>
<text transform="translate(513.06 538.10) scale(1 1.08)" font-family="Liberation Serif" font-size="12.5" text-anchor="middle" font-weight="normal" fill="#1e1e1e" stroke="#1e1e1e" stroke-width="0.22" >20</text>
<text transform="translate(576.82 538.10) scale(1 1.08)" font-family="Liberation Serif" font-size="12.5" text-anchor="middle" font-weight="normal" fill="#1e1e1e" stroke="#1e1e1e" stroke-width="0.22" >40</text>
<text transform="translate(640.58 538.10) scale(1 1.08)" font-family="Liberation Serif" font-size="12.5" text-anchor="middle" font-weight="normal" fill="#1e1e1e" stroke="#1e1e1e" stroke-width="0.22" >60</text>
<text transform="translate(704.34 538.10) scale(1 1.08)" font-family="Liberation Serif" font-size="12.5" text-anchor="middle" font-weight="normal" fill="#1e1e1e" stroke="#1e1e1e" stroke-width="0.22" >80</text>
<text transform="translate(768.10 538.10) scale(1 1.08)" font-family="Liberation Serif" font-size="12.5" text-anchor="middle" font-weight="normal" fill="#1e1e1e" stroke="#1e1e1e" stroke-width="0.22" >100</text>
<text transform="translate(209.90 554.00) scale(1 1.08)" font-family="Liberation Serif" font-size="12.5" text-anchor="middle" font-weight="normal" fill="#1e1e1e" stroke="#1e1e1e" stroke-width="0.22" >Normalised Stride Time (%)</text>
<text transform="translate(608.70 554.00) scale(1 1.08)" font-family="Liberation Serif" font-size="12.5" text-anchor="middle" font-weight="normal" fill="#1e1e1e" stroke="#1e1e1e" stroke-width="0.22" >Normalised Stride Time (%)</text>
<text transform="translate(9.9 131.0) rotate(-90) scale(1 1.08)" font-family="Liberation Serif" font-size="12.5" text-anchor="middle" fill="#1e1e1e" stroke="#1e1e1e" stroke-width="0.22">ILM Power (W/kg)</text>
<text transform="translate(9.9 394.5) rotate(-90) scale(1 1.08)" font-family="Liberation Serif" font-size="12.5" text-anchor="middle" fill="#1e1e1e" stroke="#1e1e1e" stroke-width="0.22">ILM Average Power (W/kg)</text>
<text transform="translate(407.6 131.0) rotate(-90) scale(1 1.08)" font-family="Liberation Serif" font-size="12.5" text-anchor="middle" fill="#1e1e1e" stroke="#1e1e1e" stroke-width="0.22">ILM Power (W/kg)</text>
<text transform="translate(407.6 394.5) rotate(-90) scale(1 1.08)" font-family="Liberation Serif" font-size="12.5" text-anchor="middle" fill="#1e1e1e" stroke="#1e1e1e" stroke-width="0.22">ILM Average Power (W/kg)</text>
<text transform="translate(54.50 22.60) scale(1 1.08)" font-family="Liberation Serif" font-size="19.5" text-anchor="start" font-weight="bold" fill="#1e1e1e" stroke="#1e1e1e" stroke-width="0.22" >A</text>
<text transform="translate(451.50 22.50) scale(1 1.08)" font-family="Liberation Serif" font-size="19.5" text-anchor="start" font-weight="bold" fill="#1e1e1e" stroke="#1e1e1e" stroke-width="0.22" >B</text>
<text transform="translate(54.50 285.80) scale(1 1.08)" font-family="Liberation Serif" font-size="19.5" text-anchor="start" font-weight="bold" fill="#1e1e1e" stroke="#1e1e1e" stroke-width="0.22" >C</text>
<text transform="translate(452.80 285.80) scale(1 1.08)" font-family="Liberation Serif" font-size="19.5" text-anchor="start" font-weight="bold" fill="#1e1e1e" stroke="#1e1e1e" stroke-width="0.22" >D</text>
<rect x="100.8" y="12.0" width="26.3" height="11.5" fill="#fff"/>
<text transform="translate(113.95 22.00) scale(1 1.08)" font-family="Liberation Serif" font-size="12.5" text-anchor="middle" font-weight="normal" fill="#1e1e1e" stroke="#1e1e1e" stroke-width="0.22" >RTO</text>
<rect x="116.2" y="31.0" width="16.8" height="11.5" fill="#fff"/>
<text transform="translate(124.60 41.00) scale(1 1.08)" font-family="Liberation Serif" font-size="12.5" text-anchor="middle" font-weight="normal" fill="#1e1e1e" stroke="#1e1e1e" stroke-width="0.22" >ET</text>
<rect x="199.0" y="12.0" width="26.0" height="11.5" fill="#fff"/>
<text transform="translate(212.00 22.00) scale(1 1.08)" font-family="Liberation Serif" font-size="12.5" text-anchor="middle" font-weight="normal" fill="#1e1e1e" stroke="#1e1e1e" stroke-width="0.22" >RHS</text>
<rect x="192.9" y="31.0" width="16.6" height="11.5" fill="#fff"/>
<text transform="translate(201.20 41.00) scale(1 1.08)" font-family="Liberation Serif" font-size="12.5" text-anchor="middle" font-weight="normal" fill="#1e1e1e" stroke="#1e1e1e" stroke-width="0.22" >ST</text>
<rect x="256.1" y="12.0" width="26.7" height="11.5" fill="#fff"/>
<text transform="translate(269.45 22.00) scale(1 1.08)" font-family="Liberation Serif" font-size="12.5" text-anchor="middle" font-weight="normal" fill="#1e1e1e" stroke="#1e1e1e" stroke-width="0.22" >LTO</text>
<rect x="273.0" y="31.0" width="16.0" height="11.5" fill="#fff"/>
<text transform="translate(281.00 41.00) scale(1 1.08)" font-family="Liberation Serif" font-size="12.5" text-anchor="middle" font-weight="normal" fill="#1e1e1e" stroke="#1e1e1e" stroke-width="0.22" >ET</text>
<rect x="349.0" y="31.0" width="16.3" height="11.5" fill="#fff"/>
<text transform="translate(357.15 41.00) scale(1 1.08)" font-family="Liberation Serif" font-size="12.5" text-anchor="middle" font-weight="normal" fill="#1e1e1e" stroke="#1e1e1e" stroke-width="0.22" >ST</text>
<rect x="492.7" y="12.0" width="27.0" height="11.5" fill="#fff"/>
<text transform="translate(506.20 22.00) scale(1 1.08)" font-family="Liberation Serif" font-size="12.5" text-anchor="middle" font-weight="normal" fill="#1e1e1e" stroke="#1e1e1e" stroke-width="0.22" >NTO</text>
<rect x="518.4" y="31.0" width="15.9" height="11.5" fill="#fff"/>
<text transform="translate(526.35 41.00) scale(1 1.08)" font-family="Liberation Serif" font-size="12.5" text-anchor="middle" font-weight="normal" fill="#1e1e1e" stroke="#1e1e1e" stroke-width="0.22" >ET</text>
<rect x="582.1" y="12.0" width="25.9" height="11.5" fill="#fff"/>
<text transform="translate(595.05 22.00) scale(1 1.08)" font-family="Liberation Serif" font-size="12.5" text-anchor="middle" font-weight="normal" fill="#1e1e1e" stroke="#1e1e1e" stroke-width="0.22" >NHS</text>
<rect x="575.7" y="31.0" width="16.2" height="11.5" fill="#fff"/>
<text transform="translate(583.80 41.00) scale(1 1.08)" font-family="Liberation Serif" font-size="12.5" text-anchor="middle" font-weight="normal" fill="#1e1e1e" stroke="#1e1e1e" stroke-width="0.22" >ST</text>
<rect x="646.2" y="12.0" width="24.6" height="11.5" fill="#fff"/>
<text transform="translate(658.50 22.00) scale(1 1.08)" font-family="Liberation Serif" font-size="12.5" text-anchor="middle" font-weight="normal" fill="#1e1e1e" stroke="#1e1e1e" stroke-width="0.22" >PTO</text>
<rect x="655.9" y="31.0" width="16.2" height="11.5" fill="#fff"/>
<text transform="translate(664.00 41.00) scale(1 1.08)" font-family="Liberation Serif" font-size="12.5" text-anchor="middle" font-weight="normal" fill="#1e1e1e" stroke="#1e1e1e" stroke-width="0.22" >ET</text>
<rect x="738.2" y="31.0" width="16.5" height="11.5" fill="#fff"/>
<text transform="translate(746.45 41.00) scale(1 1.08)" font-family="Liberation Serif" font-size="12.5" text-anchor="middle" font-weight="normal" fill="#1e1e1e" stroke="#1e1e1e" stroke-width="0.22" >ST</text>
<rect x="116.2" y="296.0" width="16.8" height="11.5" fill="#fff"/>
<text transform="translate(124.60 306.00) scale(1 1.08)" font-family="Liberation Serif" font-size="12.5" text-anchor="middle" font-weight="normal" fill="#1e1e1e" stroke="#1e1e1e" stroke-width="0.22" >ET</text>
<rect x="193.0" y="296.0" width="16.0" height="11.5" fill="#fff"/>
<text transform="translate(201.00 306.00) scale(1 1.08)" font-family="Liberation Serif" font-size="12.5" text-anchor="middle" font-weight="normal" fill="#1e1e1e" stroke="#1e1e1e" stroke-width="0.22" >ST</text>
<rect x="272.8" y="296.0" width="16.9" height="11.5" fill="#fff"/>
<text transform="translate(281.25 306.00) scale(1 1.08)" font-family="Liberation Serif" font-size="12.5" text-anchor="middle" font-weight="normal" fill="#1e1e1e" stroke="#1e1e1e" stroke-width="0.22" >ET</text>
<rect x="349.0" y="296.0" width="16.3" height="11.5" fill="#fff"/>
<text transform="translate(357.15 306.00) scale(1 1.08)" font-family="Liberation Serif" font-size="12.5" text-anchor="middle" font-weight="normal" fill="#1e1e1e" stroke="#1e1e1e" stroke-width="0.22" >ST</text>
<rect x="518.1" y="296.0" width="16.8" height="11.5" fill="#fff"/>
<text transform="translate(526.50 306.00) scale(1 1.08)" font-family="Liberation Serif" font-size="12.5" text-anchor="middle" font-weight="normal" fill="#1e1e1e" stroke="#1e1e1e" stroke-width="0.22" >ET</text>
<rect x="575.6" y="296.0" width="16.2" height="11.5" fill="#fff"/>
<text transform="translate(583.70 306.00) scale(1 1.08)" font-family="Liberation Serif" font-size="12.5" text-anchor="middle" font-weight="normal" fill="#1e1e1e" stroke="#1e1e1e" stroke-width="0.22" >ST</text>
<rect x="655.0" y="296.0" width="17.5" height="11.5" fill="#fff"/>
<text transform="translate(663.75 306.00) scale(1 1.08)" font-family="Liberation Serif" font-size="12.5" text-anchor="middle" font-weight="normal" fill="#1e1e1e" stroke="#1e1e1e" stroke-width="0.22" >ET</text>
<rect x="738.4" y="296.0" width="16.0" height="11.5" fill="#fff"/>
<text transform="translate(746.40 306.00) scale(1 1.08)" font-family="Liberation Serif" font-size="12.5" text-anchor="middle" font-weight="normal" fill="#1e1e1e" stroke="#1e1e1e" stroke-width="0.22" >ST</text>
<circle cx="79.9" cy="214.8" r="10.1" fill="#151515"/>
<text transform="translate(79.90 219.60) scale(1 1.08)" font-family="Liberation Serif" font-size="13.6" text-anchor="middle" font-weight="bold" fill="#fff" stroke="#fff" stroke-width="0.22" letter-spacing="-0.6">T1</text>
<circle cx="240.2" cy="216.7" r="10.1" fill="#151515"/>
<text transform="translate(240.20 221.50) scale(1 1.08)" font-family="Liberation Serif" font-size="13.6" text-anchor="middle" font-weight="bold" fill="#fff" stroke="#fff" stroke-width="0.22" letter-spacing="-0.6">T2</text>
<circle cx="487.3" cy="216.7" r="10.1" fill="#151515"/>
<text transform="translate(487.30 221.50) scale(1 1.08)" font-family="Liberation Serif" font-size="13.6" text-anchor="middle" font-weight="bold" fill="#fff" stroke="#fff" stroke-width="0.22" letter-spacing="-0.6">T1</text>
<circle cx="626.0" cy="217.2" r="10.1" fill="#151515"/>
<text transform="translate(626.00 222.00) scale(1 1.08)" font-family="Liberation Serif" font-size="13.6" text-anchor="middle" font-weight="bold" fill="#fff" stroke="#fff" stroke-width="0.22" letter-spacing="-0.6">T2</text>
<circle cx="80.0" cy="489.7" r="10.1" fill="#151515"/>
<text transform="translate(80.00 494.50) scale(1 1.08)" font-family="Liberation Serif" font-size="13.6" text-anchor="middle" font-weight="bold" fill="#fff" stroke="#fff" stroke-width="0.22" letter-spacing="-0.6">T1</text>
<circle cx="239.8" cy="491.7" r="10.1" fill="#151515"/>
<text transform="translate(239.80 496.50) scale(1 1.08)" font-family="Liberation Serif" font-size="13.6" text-anchor="middle" font-weight="bold" fill="#fff" stroke="#fff" stroke-width="0.22" letter-spacing="-0.6">T2</text>
<circle cx="487.5" cy="491.8" r="10.1" fill="#151515"/>
<text transform="translate(487.50 496.60) scale(1 1.08)" font-family="Liberation Serif" font-size="13.6" text-anchor="middle" font-weight="bold" fill="#fff" stroke="#fff" stroke-width="0.22" letter-spacing="-0.6">T1</text>
<circle cx="626.3" cy="491.8" r="10.1" fill="#151515"/>
<text transform="translate(626.30 496.60) scale(1 1.08)" font-family="Liberation Serif" font-size="13.6" text-anchor="middle" font-weight="bold" fill="#fff" stroke="#fff" stroke-width="0.22" letter-spacing="-0.6">T2</text>
<path d="M289.6 215.8H298.5M688.1 215.6H697.5" stroke="#111" stroke-width="2"/>
<path d="M289.6 232.6H298.5M688.1 233.2H697.5" stroke="#111" stroke-width="2" stroke-dasharray="1.6 1.5"/>
<text transform="translate(305.00 219.60) scale(1 1.08)" font-family="Liberation Serif" font-size="12.5" text-anchor="start" font-weight="normal" fill="#1e1e1e" stroke="#1e1e1e" stroke-width="0.22" >Right</text>
<text transform="translate(305.00 236.60) scale(1 1.08)" font-family="Liberation Serif" font-size="12.5" text-anchor="start" font-weight="normal" fill="#1e1e1e" stroke="#1e1e1e" stroke-width="0.22" >Left</text>
<text transform="translate(704.00 219.80) scale(1 1.08)" font-family="Liberation Serif" font-size="12.5" text-anchor="start" font-weight="normal" fill="#1e1e1e" stroke="#1e1e1e" stroke-width="0.22" >Non−Paretic</text>
<text transform="translate(704.00 236.80) scale(1 1.08)" font-family="Liberation Serif" font-size="12.5" text-anchor="start" font-weight="normal" fill="#1e1e1e" stroke="#1e1e1e" stroke-width="0.22" >Paretic</text>
<rect x="292" y="325.5" width="7.5" height="7.5" fill="#181818" stroke="#222"/>
<rect x="292" y="342.5" width="7.5" height="7.5" fill="#fff" stroke="#222"/>
<text transform="translate(305.00 333.00) scale(1 1.08)" font-family="Liberation Serif" font-size="12.5" text-anchor="start" font-weight="normal" fill="#1e1e1e" stroke="#1e1e1e" stroke-width="0.22" >Right</text>
<text transform="translate(305.00 350.00) scale(1 1.08)" font-family="Liberation Serif" font-size="12.5" text-anchor="start" font-weight="normal" fill="#1e1e1e" stroke="#1e1e1e" stroke-width="0.22" >Left</text>
<rect x="691" y="317.2" width="7.5" height="7.5" fill="#181818" stroke="#222"/>
<rect x="691" y="332.5" width="7.5" height="7.5" fill="#fff" stroke="#222"/>
<text transform="translate(704.50 325.00) scale(1 1.08)" font-family="Liberation Serif" font-size="12.5" text-anchor="start" font-weight="normal" fill="#1e1e1e" stroke="#1e1e1e" stroke-width="0.22" >Non−Paretic</text>
<text transform="translate(704.50 341.00) scale(1 1.08)" font-family="Liberation Serif" font-size="12.5" text-anchor="start" font-weight="normal" fill="#1e1e1e" stroke="#1e1e1e" stroke-width="0.22" >Paretic</text>
</svg>
</body></html>
